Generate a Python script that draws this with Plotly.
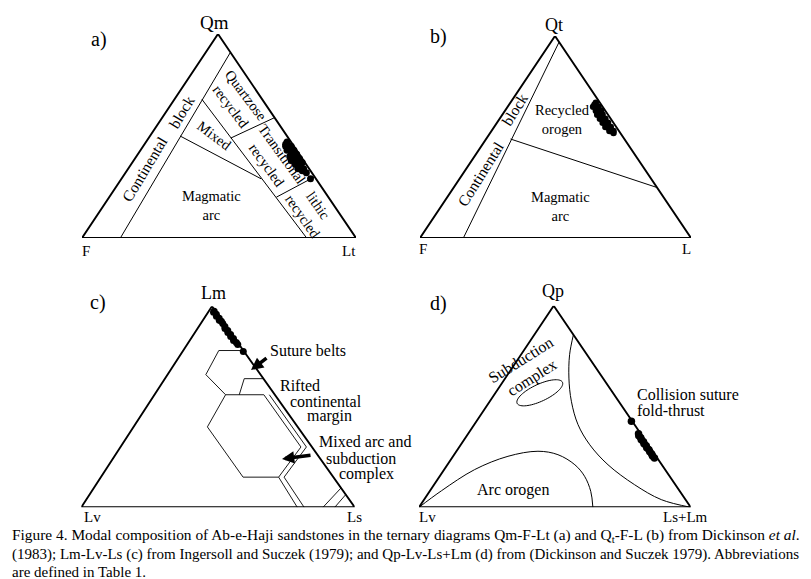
import math
import plotly.graph_objects as go

FIG_W, FIG_H = 811, 579
FONT = "Liberation Serif, Times New Roman, serif"

# ---------------- sample data (percent: top apex, left apex, right apex) ----------------
# (a) Qm - F - Lt
a_qm = [47, 46, 45, 45, 44, 43, 43, 42, 41, 41, 40, 40, 39, 39, 38, 38, 37, 37, 36, 36, 35, 34, 34, 33, 32, 29]
a_f = [1.5, 2.5, 1, 3, 2, 3.5, 1, 2, 3, 1, 4, 2, 3, 1, 4.5, 2, 3, 1, 4, 2, 3, 2, 4, 3, 2, 2]
a_lt = [51.5, 51.5, 54, 52, 54, 53.5, 56, 56, 56, 58, 56, 58, 58, 60, 57.5, 60, 60, 62, 60, 62, 62, 64, 62, 64, 66, 69]

# (b) Qt - F - L
b_qt = [67, 66, 65, 65, 64, 63, 63, 62, 61, 61, 60, 59, 59, 58, 57, 57, 56, 55, 55, 54, 53, 53, 52]
b_f = [1.5, 2.5, 1.5, 3.5, 2.5, 1.5, 3.5, 2.5, 4, 2, 3, 2, 4, 3, 2, 4, 3, 2, 4, 3, 2, 3.5, 2.5]
b_l = [31.5, 31.5, 33.5, 31.5, 33.5, 35.5, 33.5, 35.5, 35, 37, 37, 39, 37, 39, 41, 39, 41, 43, 41, 43, 45, 43.5, 45.5]

# (c) Lm - Lv - Ls
c_lm = [97.5, 97, 96, 95, 94, 93, 92.5, 91.5, 90, 89, 88, 87, 86, 85, 84, 83, 82, 81, 77.5]
c_lv = [0.5, 1, 0.5, 1, 0.5, 1, 0.5, 0.5, 0.5, 1, 0.5, 1, 0.5, 1, 0.5, 1, 0.5, 0.5, 0.3]
c_ls = [2, 2, 3.5, 4, 5.5, 6, 7, 8, 9.5, 10, 11.5, 12, 13.5, 14, 15.5, 16, 17.5, 18.5, 22.2]

# (d) Qp - Lv - Ls+Lm
d_qp = [42.7, 36.5, 35.5, 34.5, 33.5, 32.5, 31.5, 30.5, 29.5, 28.5, 27.5, 26.5, 25.5, 24.5]
d_lv = [0.3, 0.8, 1.2, 1, 1.3, 1, 1.3, 1, 1.3, 1, 1.2, 1, 1.2, 1]
d_lsm = [57, 62.7, 63.3, 64.5, 65.2, 66.5, 67.2, 68.5, 69.2, 70.5, 71.3, 72.5, 73.3, 74.5]

# ---------------- field boundaries (top, left, right) ----------------
outline = [(100, 0, 0), (0, 100, 0), (0, 0, 100), (100, 0, 0)]

a_lines = [
    [(0, 86, 14), (91, 0, 9)],          # continental block
    [(68, 22, 10), (0, 18, 82)],        # recycled orogen limit
    [(49, 21, 30), (59, 0, 41)],        # quartzose / transitional
    [(20, 19, 61), (30, 0, 70)],        # transitional / lithic
    [(50, 39, 11), (29, 20, 51)],       # mixed / magmatic arc
]
b_lines = [
    [(0, 84, 16), (97, 0, 3)],
    [(49, 42, 9), (25, 0, 75)],
]
c_lines = [
    [(78, 0, 22), (78, 9, 13), (66, 20, 14), (56, 18, 26)],                       # suture belts
    [(56, 18, 26), (56, 4, 40), (30, 4, 66), (15, 20, 65), (15, 33, 52), (40, 33, 27), (56, 18, 26)],  # mixed arc
    [(56, 13, 31), (64, 7, 29), (64, 0, 36)],                                      # rifted margin
    [(56, 2, 42), (30, 2, 68), (15, 18, 67), (0, 18.5, 81.5)],
    [(15, 20, 65), (0, 21, 79)],
    [(0, 11.6, 88.4), (9.6, 0, 90.4)],
    [(0, 7.3, 92.7), (6.3, 0, 93.7)],
]
d_right_curve = [(85.6, 0, 14.4), (75.7, 6.4, 17.9), (64.1, 12.5, 23.4), (52.6, 17.4, 30),
                 (41, 20.8, 38.2), (31, 21.5, 47.5), (21.1, 19.8, 59.1), (11.2, 15, 73.8),
                 (3.8, 8.9, 87.3), (0, 0, 100)]
d_arc_curve = [(0, 100, 0), (8.2, 87.6, 4.2), (18.7, 70.1, 11.2), (25.3, 54.5, 20.2), (27.8, 42.2, 30),
               (26.1, 35.7, 38.2), (21.1, 32, 46.9), (15.4, 31.3, 53.3), (7.9, 32.8, 59.3), (0, 36, 64)]
d_ellipse_center = (56.8, 26.9, 16.3)

# ---------------- panel geometry (pixels) ----------------
panels = {
    "a": dict(lx=74, rx=348, by=230, ay=26, apx=210),
    "b": dict(lx=412, rx=683, by=230, ay=28, apx=547),
    "c": dict(lx=73.3, rx=346.7, by=499.3, ay=298.3, apx=204),
    "d": dict(lx=411, rx=682.7, by=499.3, ay=297.7, apx=545.7),
}
order = ["a", "b", "c", "d"]


def af(p):
    g = panels[p]
    return (g["apx"] - g["lx"]) / (g["rx"] - g["lx"])


def tern(pts, p):
    f = af(p)
    xs, ys = [], []
    for t, l, r in pts:
        s = t + l + r
        t, r = t / s, r / s
        xs.append(r + t * f)
        ys.append(t)
    return xs, ys


fig = go.Figure()
layout_axes = {}
for i, p in enumerate(order):
    g = panels[p]
    n = "" if i == 0 else str(i + 1)
    layout_axes["xaxis" + n] = dict(domain=[g["lx"] / FIG_W, g["rx"] / FIG_W], range=[0, 1],
                                    visible=False, fixedrange=True, anchor="y" + n)
    layout_axes["yaxis" + n] = dict(domain=[1 - g["by"] / FIG_H, 1 - g["ay"] / FIG_H], range=[0, 1],
                                    visible=False, fixedrange=True, anchor="x" + n)


def add_line(pts, p, width=1.0, shape="linear"):
    i = order.index(p)
    n = "" if i == 0 else str(i + 1)
    xs, ys = tern(pts, p)
    fig.add_trace(go.Scatter(x=xs, y=ys, mode="lines", xaxis="x" + n, yaxis="y" + n,
                             line=dict(color="black", width=width, shape=shape),
                             hoverinfo="skip", showlegend=False, cliponaxis=False))


def add_points(top, left, right, p, size=7):
    i = order.index(p)
    n = "" if i == 0 else str(i + 1)
    xs, ys = tern(list(zip(top, left, right)), p)
    fig.add_trace(go.Scatter(x=xs, y=ys, mode="markers", xaxis="x" + n, yaxis="y" + n,
                             marker=dict(color="black", size=size, line=dict(width=0)),
                             showlegend=False, cliponaxis=False))


for p in order:
    add_line(outline, p, width=1.9)

for seg in a_lines:
    add_line(seg, "a", 1.0)
for seg in b_lines:
    add_line(seg, "b", 1.0)
for seg in c_lines:
    add_line(seg, "c", 0.9)
add_line(d_right_curve, "d", 1.0, "spline")
add_line(d_arc_curve, "d", 1.0, "spline")

# ellipse (subduction complex field) in panel d
g = panels["d"]
Wd, Hd = g["rx"] - g["lx"], g["by"] - g["ay"]
cx, cy = tern([d_ellipse_center], "d")
cxp, cyp = cx[0] * Wd, cy[0] * Hd
ex, ey = [], []
ang = math.radians(25)
for k in range(73):
    th = 2 * math.pi * k / 72
    u, v = 25 * math.cos(th), 8.5 * math.sin(th)
    ex.append((cxp + u * math.cos(ang) - v * math.sin(ang)) / Wd)
    ey.append((cyp + u * math.sin(ang) + v * math.cos(ang)) / Hd)
fig.add_trace(go.Scatter(x=ex, y=ey, mode="lines", xaxis="x4", yaxis="y4",
                         line=dict(color="black", width=1.0, shape="spline"),
                         hoverinfo="skip", showlegend=False))

add_points(a_qm, a_f, a_lt, "a", 7)
add_points(b_qt, b_f, b_l, "b", 6.5)
add_points(c_lm, c_lv, c_ls, "c", 7)
add_points(d_qp, d_lv, d_lsm, "d", 7.5)

# ---------------- text ----------------
anns = []


def P(px, py):
    return px / FIG_W, 1 - py / FIG_H


def txt(s, px, py, size=15, angle=0, xanchor="center", align="center"):
    x, y = P(px, py)
    anns.append(dict(text=s, x=x, y=y, xref="paper", yref="paper", showarrow=False,
                     xanchor=xanchor, yanchor="middle", textangle=angle, align=align,
                     font=dict(family=FONT, size=size, color="black")))


# panel letters
txt("a)", 91, 31, 20)
txt("b)", 431, 29, 20)
txt("c)", 90, 294, 20)
txt("d)", 430, 295, 20)

# vertex labels
txt("Qm", 206, 14, 19)
txt("F", 78, 243, 15)
txt("Lt", 341, 243, 15)
txt("Qt", 546, 17, 18)
txt("F", 415, 241, 15)
txt("L", 678, 241, 15)
txt("Lm", 205, 285, 18)
txt("Lv", 84, 509, 15)
txt("Ls", 346, 509, 15)
txt("Qp", 545, 283, 18)
txt("Lv", 419, 509, 15)
txt("Ls+Lm", 677, 509, 15)

# panel a fields
txt("Continental", 136, 161, 15.5, -59)
txt("block", 173, 104, 15.5, -59)
txt("Quartzose<br>recycled", 231, 93, 14.5, 53)
txt("Mixed", 207, 128, 14.5, 37)
txt("Transitional<br>recycled", 266, 152, 14.5, 54)
txt("lithic<br>recycled", 303, 203, 14.5, 55)
txt("Magmatic<br>arc", 204, 197, 14.5)

# panel b fields
txt("Continental", 472, 166, 15.5, -58)
txt("block", 507, 102, 15.5, -58)
txt("Recycled<br>orogen", 554, 112, 14.5)
txt("Magmatic<br>arc", 552, 198, 14.5)

# panel c fields
txt("Suture belts", 260, 342, 16, xanchor="left")
txt("Rifted", 270, 377, 16, xanchor="left")
txt("continental", 318, 393, 16)
txt("margin", 321, 408, 16)
txt("Mixed arc and", 357, 433, 16)
txt("subduction", 353, 450, 16)
txt("complex", 358, 466, 16)

# panel d fields
txt("Subduction<br>complex", 518, 361, 16, -32)
txt("Collision suture", 627, 386, 16, xanchor="left")
txt("fold-thrust", 627, 402, 16, xanchor="left")
txt("Arc orogen", 505, 482, 16)

# arrows in panel c
for hx, hy, tx, ty in [(243, 362, 260, 349), (274, 451, 304, 447)]:
    x, y = P(hx, hy)
    anns.append(dict(x=x, y=y, xref="paper", yref="paper", ax=tx - hx, ay=ty - hy,
                     text="", showarrow=True, arrowhead=2, arrowsize=0.7, arrowwidth=3.5,
                     arrowcolor="black"))

# caption
cap = [
    ("Figure 4. Modal composition of Ab-e-Haji sandstones in the ternary diagrams Qm-F-Lt (a) and Q<sub>t</sub>-F-L (b) from Dickinson <i>et al</i>.", 15.4, 527),
    ("(1983); Lm-Lv-Ls (c) from Ingersoll and Suczek (1979); and Qp-Lv-Ls+Lm (d) from (Dickinson and Suczek 1979). Abbreviations", 15.0, 546),
    ("are defined in Table 1.", 15.0, 564),
]
for s, size, py in cap:
    txt(s, 2, py, size, xanchor="left", align="left")

fig.update_layout(width=FIG_W, height=FIG_H, margin=dict(l=0, r=0, t=0, b=0),
                  paper_bgcolor="white", plot_bgcolor="white", showlegend=False,
                  annotations=anns, **layout_axes)

fig.write_html("out.html")
